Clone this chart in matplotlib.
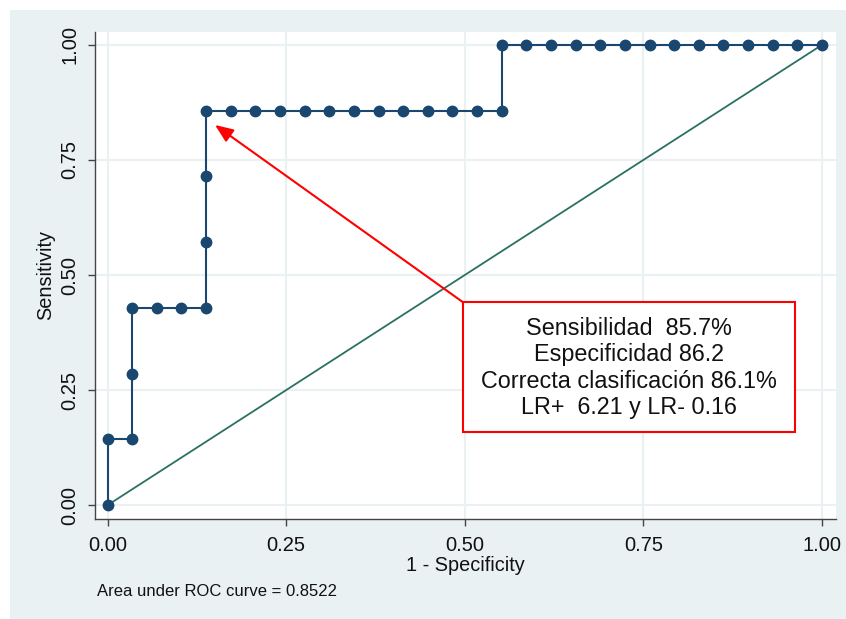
import matplotlib.pyplot as plt
from matplotlib.patches import Rectangle

plt.rcParams['font.family'] = ['Liberation Sans', 'DejaVu Sans']

# ROC points (1 - specificity, sensitivity)
fpr = [0.0, 0.0, 0.0345, 0.0345, 0.0345, 0.069, 0.1034, 0.1379, 0.1379, 0.1379, 0.1379,
       0.1724, 0.2069, 0.2414, 0.2759, 0.3103, 0.3448, 0.3793, 0.4138, 0.4483, 0.4828,
       0.5172, 0.5517, 0.5517, 0.5862, 0.6207, 0.6552, 0.6897, 0.7241, 0.7586, 0.7931,
       0.8276, 0.8621, 0.8966, 0.931, 0.9655, 1.0]
tpr = [0.0, 0.1429, 0.1429, 0.2857, 0.4286, 0.4286, 0.4286, 0.4286, 0.5714, 0.7143, 0.8571,
       0.8571, 0.8571, 0.8571, 0.8571, 0.8571, 0.8571, 0.8571, 0.8571, 0.8571, 0.8571,
       0.8571, 0.8571, 1.0, 1.0, 1.0, 1.0, 1.0, 1.0, 1.0, 1.0,
       1.0, 1.0, 1.0, 1.0, 1.0, 1.0]
ref_line = [0.0, 1.0]
ticks = [0.0, 0.25, 0.5, 0.75, 1.0]
tick_labels = ['0.00', '0.25', '0.50', '0.75', '1.00']
auc_note = 'Area under ROC curve = 0.8522'
box_text = 'Sensibilidad  85.7%\nEspecificidad 86.2\nCorrecta clasificación 86.1%\nLR+  6.21 y LR- 0.16'

navy = '#1a476f'
teal = '#2c7063'
bg = '#eaf1f3'

fig = plt.figure(figsize=(8.46, 6.19), dpi=100)
fig.patches.append(Rectangle((10 / 846, 0), 1, 1 - 10 / 619, transform=fig.transFigure,
                             facecolor=bg, edgecolor='none', zorder=-10))

ax = fig.add_axes([95 / 846, 1 - 519 / 619, 741 / 846, 487 / 619])
ax.set_facecolor('white')

ax.plot(ref_line, ref_line, color=teal, lw=1.3, zorder=3)
ax.plot(fpr, tpr, color=navy, lw=1.5, marker='o', ms=7.5, zorder=4)

ax.set_xlim(-0.0175, 1.0196)
ax.set_ylim(-0.030, 1.028)
ax.set_xticks(ticks)
ax.set_xticklabels(tick_labels)
ax.set_yticks(ticks)
ax.set_yticklabels(tick_labels, rotation=90, va='center')
ax.grid(True, color=bg, lw=1.5, zorder=0)
ax.set_axisbelow(True)

for s in ['top', 'right']:
    ax.spines[s].set_visible(False)
for s in ['left', 'bottom']:
    ax.spines[s].set_color('#444444')
    ax.spines[s].set_linewidth(1.0)
ax.tick_params(axis='both', length=5, width=1.0, color='#444444', labelsize=14.5, labelcolor='#111111')
ax.tick_params(axis='x', pad=7)
ax.tick_params(axis='y', pad=6)

ax.set_xlabel('1 - Specificity', fontsize=14.3, color='#111111', labelpad=1)
ax.set_ylabel('Sensitivity', fontsize=14.3, color='#111111', labelpad=4)

# annotation box with arrow
ax.annotate('', xy=(0.1505, 0.826), xytext=(0.4975, 0.441),
            arrowprops=dict(arrowstyle='-|>,head_length=1.1,head_width=0.45', color='red', lw=1.5,
                            shrinkA=0, shrinkB=0), zorder=5)
ax.add_patch(Rectangle((0.4975, 0.1587), 0.4645, 0.2823, facecolor='white', edgecolor='red',
                       lw=1.5, zorder=6))
ax.text(0.73, 0.298, box_text, ha='center', va='center', multialignment='center',
        fontsize=16.8, linespacing=1.17, color='#111111', zorder=7)

fig.text(97 / 846, 1 - 592 / 619, auc_note, ha='left', va='center', fontsize=12, color='#111111')

fig.savefig('out.png', dpi=100)
